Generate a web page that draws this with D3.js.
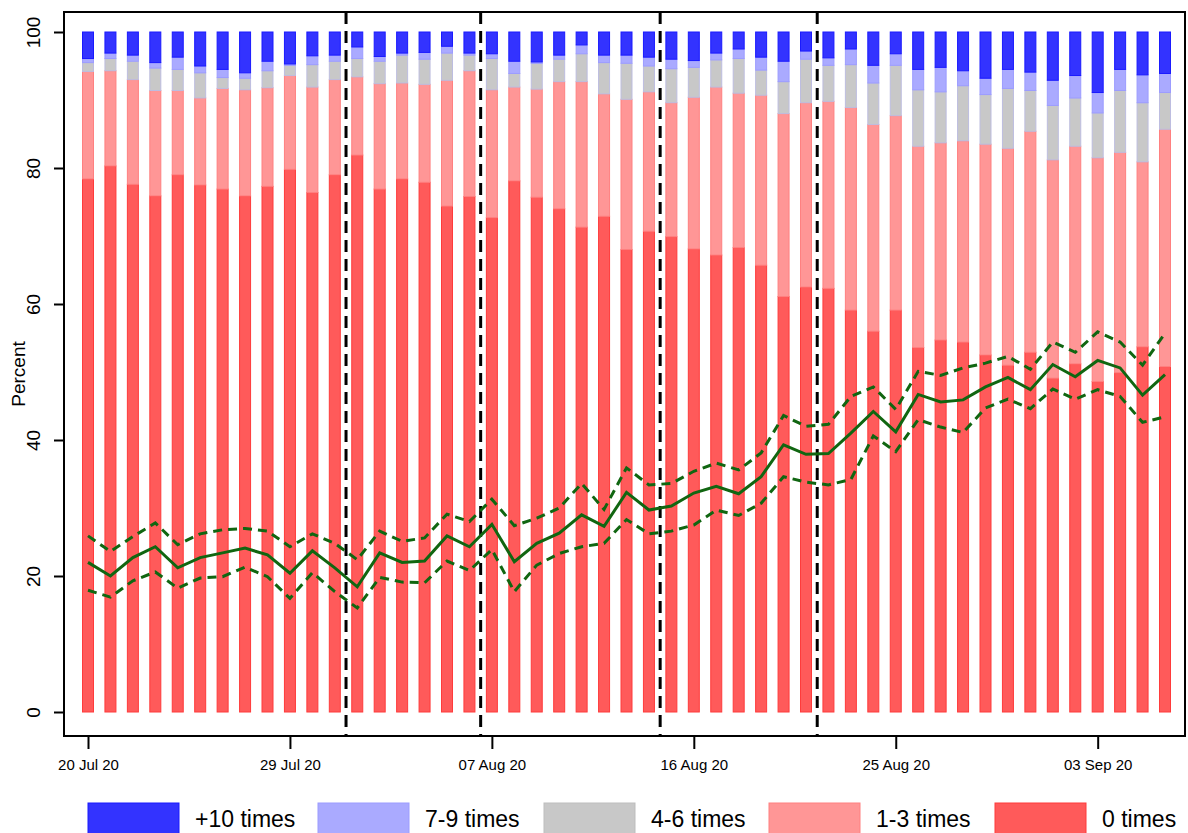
<!DOCTYPE html>
<html><head><meta charset="utf-8">
<script src="https://cdn.jsdelivr.net/npm/d3@7"></script>
<style>body{margin:0;background:#fff}text{font-family:Arial,"Liberation Sans",sans-serif}</style>
</head><body><svg id="chart"></svg>
<script>
// cumulative tops of each band, percent, one value per day from 20 Jul 20
var top0 = [78.4,80.3,77.6,75.9,79.0,77.5,76.9,75.9,77.3,79.8,76.4,79.0,81.9,76.9,78.4,77.9,74.4,75.8,72.7,78.1,75.7,74.0,71.3,72.9,68.0,70.7,69.9,68.1,67.2,68.3,65.7,61.1,62.5,62.3,59.1,56.0,59.1,53.6,54.7,54.4,52.5,51.0,52.9,49.1,51.2,48.6,49.9,53.7,50.8];
var top13 = [94.2,94.3,93.0,91.4,91.4,90.3,91.7,91.5,91.8,93.6,91.9,93.0,93.4,92.4,92.5,92.3,92.9,94.3,91.5,91.9,91.6,92.7,92.7,90.9,90.1,91.2,89.6,90.4,91.9,91.0,90.7,88.0,89.6,89.8,88.9,86.4,87.7,83.2,83.7,84.0,83.5,82.9,85.4,81.2,83.2,81.5,82.3,80.9,85.7];
var top46 = [95.5,96.1,95.7,94.7,94.5,94.0,93.3,93.2,94.3,95.1,95.2,95.7,96.1,95.7,96.6,96.0,96.9,96.6,96.1,93.9,95.4,96.0,96.8,95.5,95.4,95.0,94.6,94.8,95.9,96.1,94.4,92.7,96.0,95.1,95.2,92.5,95.1,91.5,91.2,92.1,90.8,91.7,91.4,89.2,90.3,88.1,91.4,89.6,91.1];
var top79 = [96.1,96.9,96.6,95.5,96.3,95.0,94.5,94.0,95.7,95.3,96.5,96.6,97.8,96.4,96.9,97.0,97.9,96.9,96.8,95.7,95.6,96.6,98.1,96.6,96.6,96.3,96.0,95.8,96.9,97.5,96.3,95.7,97.2,96.2,97.5,95.1,96.8,94.5,94.8,94.3,93.2,94.5,94.1,92.9,93.6,91.1,94.5,93.7,93.9];
var meanLine = [22.0,20.0,22.7,24.3,21.2,22.7,23.4,24.1,23.1,20.4,23.7,21.2,18.4,23.4,22.0,22.2,25.9,24.3,27.6,22.1,24.8,26.3,29.0,27.3,32.3,29.7,30.3,32.2,33.2,32.1,34.6,39.3,37.9,38.0,41.0,44.2,41.2,46.7,45.6,45.9,47.8,49.2,47.4,51.1,49.3,51.7,50.6,46.6,49.6];
var upperCI = [25.9,23.6,25.8,27.8,24.6,26.2,26.8,27.0,26.6,24.3,26.2,24.8,22.4,26.6,25.1,25.6,29.1,28.0,31.3,27.4,28.5,30.0,33.6,29.8,35.9,33.4,33.6,35.4,36.6,35.6,38.1,43.6,42.0,42.3,46.4,47.8,44.5,50.1,49.5,50.6,51.3,52.3,50.4,54.4,52.9,55.9,54.4,51.0,55.7];
var lowerCI = [17.9,16.9,19.3,20.6,18.2,19.7,19.9,21.3,19.9,16.7,20.5,17.7,15.3,19.8,19.1,19.0,22.2,20.8,23.9,17.7,21.6,23.3,24.3,24.8,28.3,26.2,26.6,27.5,29.7,28.9,30.7,34.6,33.8,33.4,34.2,40.6,38.3,43.0,41.9,41.1,44.7,46.0,44.6,47.5,46.0,47.4,46.4,42.6,43.4];
var legendLabels = ["+10 times","7-9 times","4-6 times","1-3 times","0 times"];
var tickDates = ["2020-07-20","2020-07-29","2020-08-07","2020-08-16","2020-08-25","2020-09-03"];
var breakDates = ["2020-07-31T12:00","2020-08-06T12:00","2020-08-14T12:00","2020-08-21T12:00"];

var W = 1188, H = 833;
var svg = d3.select("#chart").attr("width", W).attr("height", H);
var start = new Date(2020, 6, 20);
var days = top0.map(function(d, i) { return d3.timeDay.offset(start, i); });

var x = d3.scaleTime().domain([start, days[days.length - 1]]).range([88, 1165]);
var y = d3.scaleLinear().domain([0, 100]).range([712, 32]);
var bw = 11;

var bands = [
  {lo: function(i){return 0;}, hi: function(i){return top0[i];}, fill:"#ff5a5a", stroke:"#ff3b3b"},
  {lo: function(i){return top0[i];}, hi: function(i){return top13[i];}, fill:"#ff9696", stroke:"#ff8080"},
  {lo: function(i){return top13[i];}, hi: function(i){return top46[i];}, fill:"#c8c8c8", stroke:"#bdbde0"},
  {lo: function(i){return top46[i];}, hi: function(i){return top79[i];}, fill:"#aaaaff", stroke:"#9c9cff"},
  {lo: function(i){return top79[i];}, hi: function(i){return 100;}, fill:"#3333ff", stroke:"#1a1aff"}
];

bands.forEach(function(b) {
  svg.append("g").selectAll("rect").data(days).enter().append("rect")
    .attr("x", function(d) { return x(d) - bw / 2; })
    .attr("width", bw)
    .attr("y", function(d, i) { return y(b.hi(i)); })
    .attr("height", function(d, i) { return y(b.lo(i)) - y(b.hi(i)); })
    .attr("fill", b.fill).attr("stroke", b.stroke).attr("stroke-width", 1);
});

// frame
svg.append("rect").attr("x", 64).attr("y", 12).attr("width", 1121).attr("height", 724)
  .attr("fill", "none").attr("stroke", "#000").attr("stroke-width", 2);

// dashed break lines
svg.append("g").selectAll("line").data(breakDates).enter().append("line")
  .attr("x1", function(d) { return x(new Date(d)); }).attr("x2", function(d) { return x(new Date(d)); })
  .attr("y1", 12).attr("y2", 736)
  .attr("stroke", "#000").attr("stroke-width", 3).attr("stroke-dasharray", "12,7");

// CI and mean lines
var line = d3.line().x(function(d, i) { return x(days[i]); }).y(function(d) { return y(d); });
[upperCI, lowerCI].forEach(function(s) {
  svg.append("path").attr("d", line(s)).attr("fill", "none")
    .attr("stroke", "#116611").attr("stroke-width", 3).attr("stroke-dasharray", "9,6");
});
svg.append("path").attr("d", line(meanLine)).attr("fill", "none")
  .attr("stroke", "#116611").attr("stroke-width", 3);

// y axis
var yAxis = svg.append("g").attr("transform", "translate(64,0)")
  .call(d3.axisLeft(y).tickValues([0, 20, 40, 60, 80, 100]).tickSize(10).tickPadding(6));
yAxis.select(".domain").remove();
yAxis.selectAll("line").attr("stroke-width", 2);
yAxis.selectAll("text").attr("font-size", 19).attr("fill", "#000")
  .attr("text-anchor", "middle").attr("x", 0).attr("y", 0).attr("dy", 0)
  .attr("transform", "translate(-24,0) rotate(-90)");
svg.append("text").attr("transform", "translate(25,374) rotate(-90)")
  .attr("text-anchor", "middle").attr("font-size", 19).text("Percent");

// x axis
var xAxis = svg.append("g").attr("transform", "translate(0,736)")
  .call(d3.axisBottom(x).tickValues(tickDates.map(function(d) { return new Date(d + "T00:00"); }))
    .tickFormat(d3.timeFormat("%d %b %y")).tickSize(13).tickPadding(10));
xAxis.select(".domain").remove();
xAxis.selectAll("line").attr("stroke-width", 2);
xAxis.selectAll("text").attr("font-size", 15).attr("fill", "#000");

// legend
var legendFills = ["#3333ff", "#aaaaff", "#c8c8c8", "#ff9696", "#ff5a5a"];
var legendStrokes = ["#1a1aff", "#9c9cff", "#bdbdbd", "#ff8080", "#ff3b3b"];
var lx = [88, 318, 544, 769, 995];
var lg = svg.append("g").selectAll("g").data(legendLabels).enter().append("g")
  .attr("transform", function(d, i) { return "translate(" + lx[i] + ",803)"; });
lg.append("rect").attr("width", 91).attr("height", 32)
  .attr("fill", function(d, i) { return legendFills[i]; })
  .attr("stroke", function(d, i) { return legendStrokes[i]; });
lg.append("text").attr("x", 107).attr("y", 24).attr("font-size", 23).text(function(d) { return d; });
</script></body></html>
